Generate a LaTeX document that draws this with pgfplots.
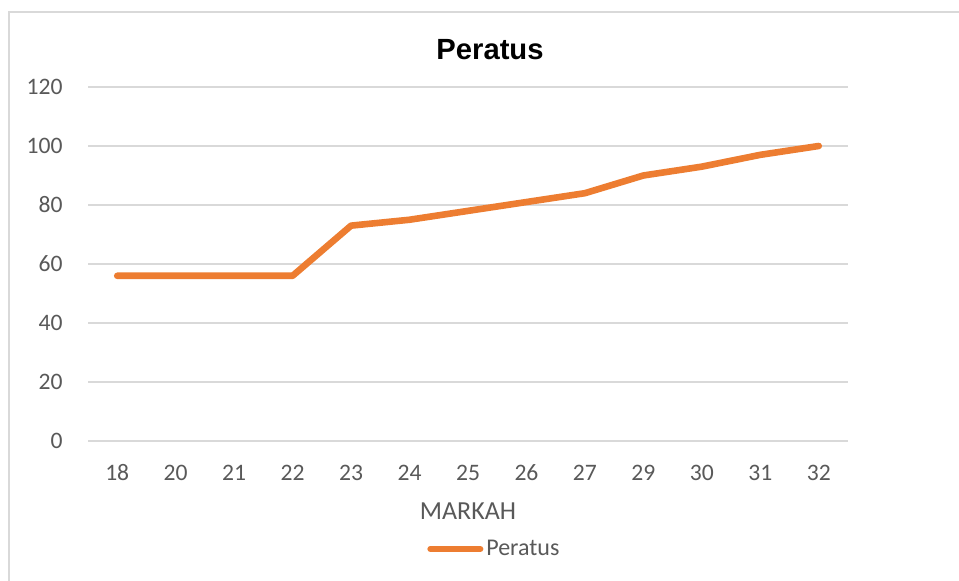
\documentclass[border=0pt]{standalone}
\usepackage{pgfplots}
\pgfplotsset{compat=1.18}
\usepackage{fontspec}
\setmainfont{Carlito}
\newfontfamily\titlefont{Liberation Sans}
\definecolor{gridgray}{HTML}{D9D9D9}
\definecolor{txtgray}{HTML}{595959}
\definecolor{xlorange}{HTML}{ED7D31}
\begin{document}
\begin{tikzpicture}
\path[use as bounding box] (0,0) rectangle (479.5pt,290.5pt);
\fill[white] (0,0) rectangle (479.5pt,290.5pt);
\draw[gridgray, line width=1pt] (4.5pt,0) -- (4.5pt,284.5pt) -- (479.5pt,284.5pt);
\begin{axis}[
  at={(44pt,70pt)}, anchor=south west,
  scale only axis, width=380pt, height=177pt,
  xmin=-0.5, xmax=12.5, ymin=0, ymax=120,
  ytick={0,20,...,120},
  xtick={0,...,12},
  xticklabels={18,20,21,22,23,24,25,26,27,29,30,31,32},
  axis line style={draw=none},
  axis x line*=bottom,
  ymajorgrids, grid style={gridgray, line width=1pt},
  major tick length=0pt,
  tick label style={font=\fontsize{11.8}{12}\selectfont, text=txtgray},
  yticklabel style={anchor=east, inner sep=0pt, xshift=-12.5pt},
  xticklabel style={anchor=base, inner sep=0pt, yshift=-20pt},
  /pgf/number format/assume math mode=true,
  legend style={at={(axis description cs:0.446,-0.305)}, anchor=west, draw=none, fill=none,
    inner sep=0pt, font=\fontsize{12}{12}\selectfont, text=txtgray,
    nodes={inner sep=1.5pt}},
  legend image code/.code={\draw[#1, line width=3pt, line cap=round] (0pt,0pt) -- (25pt,0pt);},
]
\addplot[xlorange, line width=3.3pt, line cap=round, line join=round] coordinates {
(0,56) (1,56) (2,56) (3,56) (4,73) (5,75) (6,78) (7,81) (8,84) (9,90) (10,93) (11,97) (12,100)
};
\addlegendentry{Peratus}
\end{axis}
\node[anchor=base, font=\titlefont\bfseries\fontsize{14.6}{14.6}\selectfont, text=black, inner sep=0pt] at (245pt,260.75pt) {Peratus};
\node[anchor=base, font=\fontsize{13}{13}\selectfont, text=txtgray, inner sep=0pt] at (234pt,30.75pt) {MARKAH};
\end{tikzpicture}
\end{document}
